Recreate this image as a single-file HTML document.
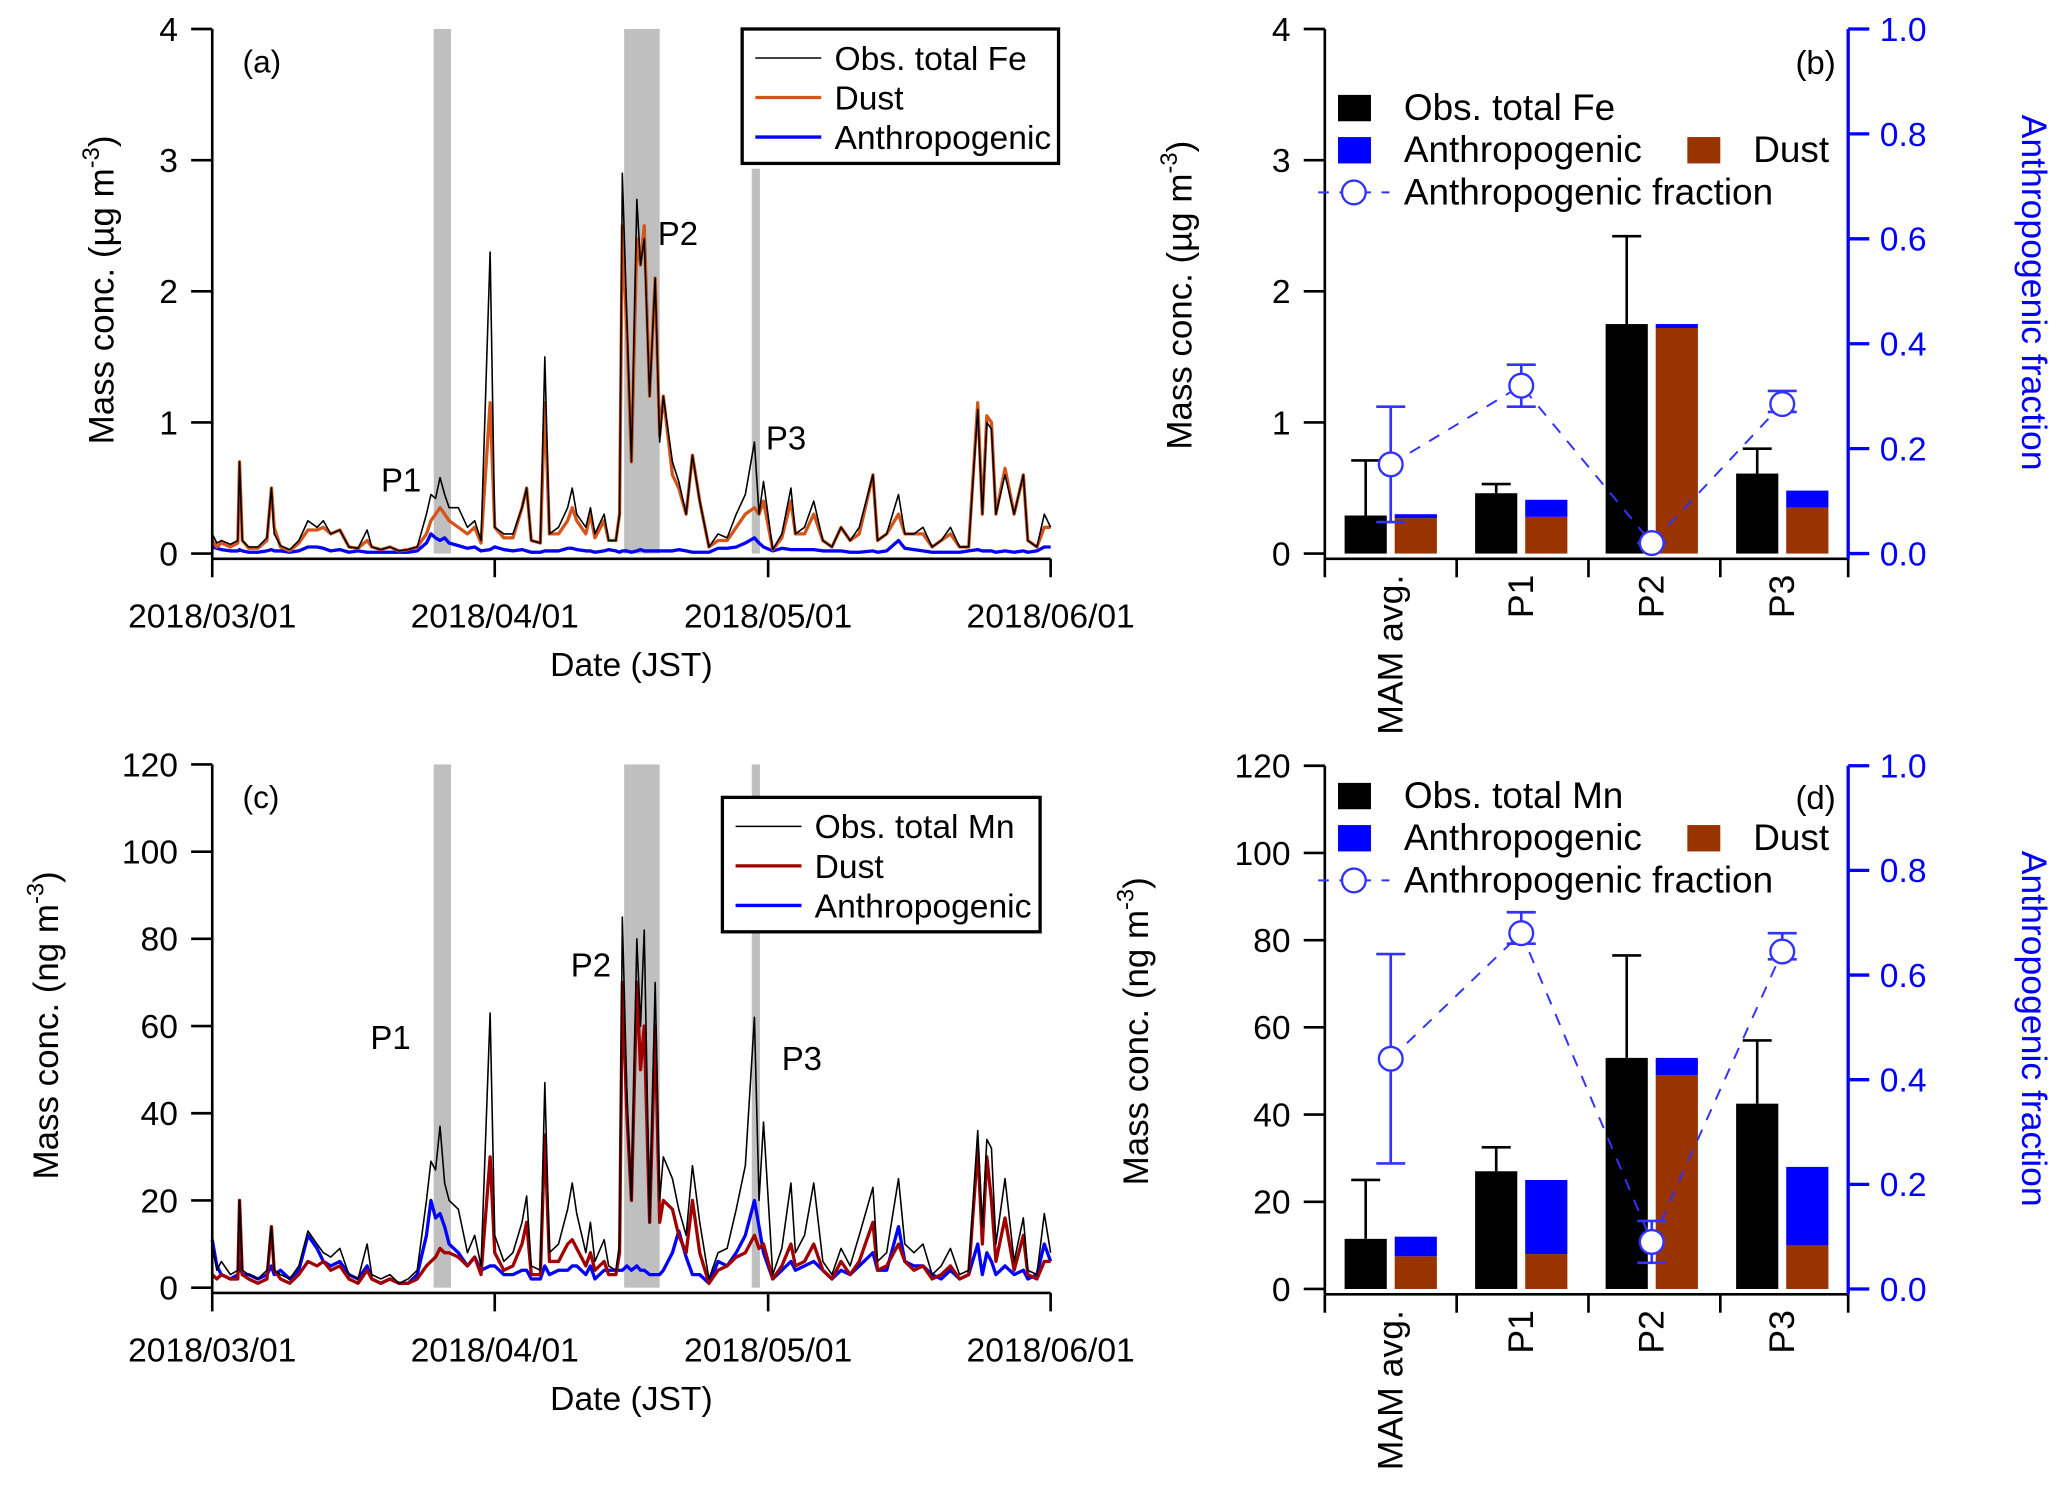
<!DOCTYPE html>
<html><head><meta charset="utf-8">
<style>
html,body{margin:0;padding:0;background:#fff;}
svg{display:block;font-family:"Liberation Sans",Arial,sans-serif;}
</style></head>
<body>
<svg id="fig" width="2067" height="1488" viewBox="0 0 1568 1129" preserveAspectRatio="none" xmlns="http://www.w3.org/2000/svg">
</svg>
<script>
// ---------- Time-series data (day index from 2018/03/01) ----------
const days = [0,0.5,1,2,2.8,3,3.3,4,5,6,6.5,6.8,7.5,8.5,9.5,10.5,11.5,12.2,13,14,15,16,17,17.5,18.5,19.5,20.5,21.5,22.5,23.5,24,24.5,25,25.5,26,27,28,28.8,29.5,30.5,31,32,33,34,34.5,35,36,36.5,37,38,39,39.5,40,41,41.5,42,43,43.5,44.3,44.7,45,45.5,46,46.6,47,47.4,48,48.6,49.1,49.5,50.5,51.2,52,52.7,53.5,54.5,55.5,56.5,57.5,58.5,59.5,60,60.5,61.5,62.5,63.5,64,65,66,67,68,69,70,71,72.5,73,74,75.3,76,77,78,79,80,81,82,83,84,84.5,85,85.5,86,87,88,89,89.5,90.5,91.3,92];
const feObs = [.15,.08,.1,.07,.1,.7,.1,.05,.05,.12,.5,.15,.06,.03,.1,.25,.2,.25,.15,.18,.05,.04,.18,.05,.03,.05,.02,.03,.05,.3,.45,.42,.58,.45,.35,.35,.2,.25,.1,2.3,.2,.15,.15,.35,.5,.1,.08,1.5,.15,.2,.35,.5,.3,.2,.35,.15,.3,.1,.1,.3,2.9,1.8,.7,2.7,2.2,2.4,1.2,2.1,.85,1.2,.7,.55,.3,.75,.4,.05,.15,.12,.3,.45,.85,.3,.55,.03,.15,.5,.15,.2,.4,.1,.05,.2,.1,.2,.6,.1,.15,.45,.15,.15,.2,.05,.1,.2,.05,.05,1.1,.3,1.0,.95,.3,.6,.3,.6,.1,.05,.3,.2];
const feDust = [.1,.05,.08,.05,.08,.7,.1,.04,.04,.1,.5,.2,.05,.02,.08,.18,.18,.2,.15,.18,.05,.04,.1,.05,.03,.05,.02,.03,.05,.15,.25,.3,.35,.3,.25,.2,.15,.2,.08,1.15,.2,.12,.12,.35,.5,.1,.08,1.15,.15,.15,.25,.35,.25,.15,.3,.12,.25,.1,.1,.3,2.5,1.7,.7,2.4,2.2,2.5,1.2,2.1,.9,1.2,.6,.5,.3,.75,.4,.05,.1,.1,.2,.3,.35,.3,.4,.03,.12,.4,.15,.15,.3,.1,.05,.2,.1,.15,.6,.1,.15,.3,.15,.15,.15,.05,.1,.15,.05,.05,1.15,.3,1.05,1.0,.3,.65,.3,.6,.1,.05,.2,.2];
const feAnth = [.05,.04,.03,.02,.02,.03,.02,.01,.01,.02,.03,.02,.02,.01,.02,.05,.05,.04,.02,.03,.01,.02,.01,.01,.01,.01,.01,.01,.02,.08,.15,.12,.1,.12,.08,.06,.04,.05,.02,.03,.05,.03,.02,.03,.02,.01,.01,.02,.02,.02,.04,.04,.03,.02,.02,.01,.02,.03,.02,.01,.02,.02,.01,.02,.03,.02,.02,.02,.02,.02,.02,.03,.02,.01,.01,.01,.04,.04,.05,.08,.12,.08,.05,.02,.04,.03,.03,.03,.03,.02,.02,.02,.01,.01,.02,.01,.02,.1,.04,.03,.02,.01,.01,.01,.01,.02,.03,.02,.02,.02,.01,.02,.01,.02,.01,.02,.05,.05];
const mnObs = [10,4,6,3,4,20,4,3,2,4,14,4,3,2,5,13,10,8,7,9,3,2,10,3,2,3,1,2,4,20,29,27,37,24,20,18,8,12,5,63,12,6,8,15,21,5,4,47,8,10,18,24,17,8,15,6,11,5,4,10,85,45,20,80,60,82,15,70,20,30,25,18,12,28,15,2,8,9,18,28,62,20,38,3,9,24,8,12,24,6,3,9,5,12,23,6,8,25,10,8,10,3,5,9,3,4,36,14,34,32,10,25,6,16,4,3,17,8];
const mnDust = [3,2,3,2,2,20,3,2,1,2,14,4,2,1,3,6,5,6,4,5,2,1,4,2,1,2,1,1,2,5,6,7,9,8,8,7,5,7,3,30,8,4,5,10,15,3,3,35,6,6,10,11,9,5,8,4,6,3,3,8,70,40,20,70,50,60,15,60,15,20,18,12,8,20,8,1,4,5,7,8,12,9,10,2,5,10,5,6,10,4,2,6,3,6,15,4,5,10,6,4,5,2,3,5,2,3,32,10,30,20,6,16,4,12,3,2,6,6];
const mnAnth = [11,5,3,2,3,6,3,3,2,3,5,3,4,2,4,12,9,6,5,6,3,2,5,2,1,2,1,1,3,12,20,16,17,14,10,8,5,7,4,5,5,3,3,4,4,2,2,5,3,4,4,5,5,3,5,2,4,4,4,4,4,5,4,5,4,4,3,3,3,4,8,13,7,3,3,1,6,5,8,12,20,14,8,2,4,6,4,5,6,4,2,4,3,5,8,4,4,14,6,5,5,3,2,4,2,3,10,3,8,6,3,5,3,4,2,3,10,6];

// ---------- Bar chart data ----------
const barCats = ["MAM avg.","P1","P2","P3"];
const feBarObs = [0.29,0.46,1.75,0.61];
const feBarObsErr = [0.71,0.53,2.42,0.80];
const feBarDust = [0.27,0.28,1.72,0.35];
const feBarAnth = [0.03,0.13,0.03,0.13];
const feFrac = [0.17,0.32,0.02,0.285];
const feFracLo = [0.06,0.28,0.02,0.27];
const feFracHi = [0.28,0.36,0.02,0.31];
const mnBarObs = [11.5,27,53,42.5];
const mnBarObsErr = [25,32.5,76.5,57];
const mnBarDust = [7.5,8,49,10];
const mnBarAnth = [4.5,17,4,18];
const mnFrac = [0.44,0.68,0.09,0.645];
const mnFracLo = [0.24,0.66,0.05,0.63];
const mnFracHi = [0.64,0.72,0.13,0.68];
const tsTicks = ["2018/03/01","2018/04/01","2018/05/01","2018/06/01"];
const tsTickDays = [0,31,61,92];

const NS="http://www.w3.org/2000/svg";
const svg=document.getElementById('fig');
function el(tag,attrs,parent,text){
  const e=document.createElementNS(NS,tag);
  for(const k in attrs) e.setAttribute(k,attrs[k]);
  if(text!==undefined) e.textContent=text;
  (parent||svg).appendChild(e); return e;
}
function grp(name){const g=el('g',{});return g;}

function tsPanel(o){
  const g=grp(o.name);
  const X=d=>161+d*(797-161)/92;
  const Y=v=>o.y0-v*(o.y0-o.yTop)/o.yMax;
  o.shades.forEach((s,i)=>{
    const r=el('rect',{x:X(s[0]),y:s[2],width:X(s[1])-X(s[0]),height:o.y0-s[2],fill:'#bfbfbf'},g);
    
  });
  const path=arr=>days.map((d,i)=>(i?'L':'M')+X(d).toFixed(1)+' '+Y(arr[i]).toFixed(1)).join(' ');
  let p=el('path',{d:path(o.anth),fill:'none',stroke:'#0000ff','stroke-width':2.5,'stroke-linejoin':'round'},g);
  
  p=el('path',{d:path(o.dust),fill:'none',stroke:o.dustColor,'stroke-width':2.5,'stroke-linejoin':'round'},g);
  
  p=el('path',{d:path(o.obs),fill:'none',stroke:'#000','stroke-width':1.2,'stroke-linejoin':'round'},g);
  
  const ax=o.y0+4;
  el('line',{x1:161,y1:o.yTop,x2:161,y2:ax,stroke:'#000','stroke-width':2},g);
  el('line',{x1:161,y1:ax,x2:797,y2:ax,stroke:'#000','stroke-width':2},g);
  o.yTicks.forEach(v=>{
    el('line',{x1:145,y1:Y(v),x2:161,y2:Y(v),stroke:'#000','stroke-width':2},g);
    const t=el('text',{x:135,y:Y(v)+9,'text-anchor':'end','font-size':25.5},g,String(v));
    
  });
  tsTickDays.forEach((d,i)=>{
    el('line',{x1:X(d),y1:ax,x2:X(d),y2:ax+14,stroke:'#000','stroke-width':2},g);
    const t=el('text',{x:X(d),y:ax+52,'text-anchor':'middle','font-size':25.5},g,tsTicks[i]);
    
  });
  let t=el('text',{x:479,y:ax+89,'text-anchor':'middle','font-size':25.5},g,'Date (JST)');
  
  t=el('text',{transform:`translate(${o.titleX},${o.titleY}) rotate(-90)`,'text-anchor':'middle','font-size':26.5},g);
  
  el('tspan',{},t,o.unit);el('tspan',{dy:-11,'font-size':18},t,'-3');el('tspan',{dy:11},t,')');
  t=el('text',{x:184,y:o.yTop+33,'font-size':24},g,o.label);
  
  o.pl.forEach((q,i)=>{const tt=el('text',{x:q[0],y:q[1],'font-size':25},g,'P'+(i+1));
    });
  const L=o.leg;
  const lg=grp('legend');g.appendChild(lg);
  el('rect',{x:L[0],y:L[1],width:L[2],height:L[3],fill:'#fff',stroke:'#000','stroke-width':2.5},lg);
  const items=[[o.obsName,'#000',1.2],['Dust',o.dustColor,2.5],['Anthropogenic','#0000ff',2.5]];
  items.forEach((it,i)=>{
    const yy=L[1]+22+i*30;
    el('line',{x1:L[0]+10,y1:yy,x2:L[0]+60,y2:yy,stroke:it[1],'stroke-width':it[2]},lg);
    const tt=el('text',{x:L[0]+70,y:yy+9,'font-size':25.5},lg,it[0]);
    
  });
}

tsPanel({name:'panel-a',y0:420,yTop:22,yMax:4,yTicks:[0,1,2,3,4],obs:feObs,dust:feDust,anth:feAnth,dustColor:'#d4541a',
  shades:[[24.3,26.2,22],[45.2,49.1,22],[59.2,60.1,128]],titleX:86,titleY:220,unit:'Mass conc. (µg m',label:'(a)',
  pl:[[289,373],[499,186],[581,341]],leg:[563,22,240,102],obsName:'Obs. total Fe'});
tsPanel({name:'panel-c',y0:977,yTop:580,yMax:120,yTicks:[0,20,40,60,80,100,120],obs:mnObs,dust:mnDust,anth:mnAnth,dustColor:'#a00000',
  shades:[[24.3,26.2,580],[45.2,49.1,580],[59.2,60.1,580]],titleX:44,titleY:778,unit:'Mass conc. (ng m',label:'(c)',
  pl:[[281,796],[433,741],[593,812]],leg:[548,605,241,102],obsName:'Obs. total Mn'});

function barPanel(o){
  const g=grp(o.name);
  const Y=v=>o.y0-v*(o.y0-o.yTop)/o.yMax;
  const F=v=>o.y0-v*(o.y0-o.yTop);
  const cx=i=>1055+i*99;
  const L=1005,R=1402,ax=o.y0+4;
  barCats.forEach((c,i)=>{
    const c0=cx(i);
    el('line',{x1:c0-19,y1:Y(o.obs[i]),x2:c0-19,y2:Y(o.err[i]),stroke:'#000','stroke-width':2},g);
    el('line',{x1:c0-30,y1:Y(o.err[i]),x2:c0-8,y2:Y(o.err[i]),stroke:'#000','stroke-width':2},g);
    let r=el('rect',{x:c0-35,y:Y(o.obs[i]),width:32,height:o.y0-Y(o.obs[i]),fill:'#000'},g);
    
    r=el('rect',{x:c0+3,y:Y(o.dust[i]),width:32,height:o.y0-Y(o.dust[i]),fill:'#993300'},g);
    
    r=el('rect',{x:c0+3,y:Y(o.dust[i]+o.anth[i]),width:32,height:Y(o.dust[i])-Y(o.dust[i]+o.anth[i]),fill:'#0000ff'},g);
    
    const t=el('text',{transform:`translate(${c0+9},${ax+12}) rotate(-90)`,'text-anchor':'end','font-size':27},g,c);
    
  });
  const pts=o.frac.map((f,i)=>cx(i)+','+F(f)).join(' ');
  const pl=el('polyline',{points:pts,fill:'none',stroke:'#3333ff','stroke-width':1.5,'stroke-dasharray':'9,8'},g);
  
  o.frac.forEach((f,i)=>{
    const c0=cx(i);
    el('line',{x1:c0,y1:F(o.lo[i]),x2:c0,y2:F(o.hi[i]),stroke:'#3333ff','stroke-width':2},g);
    el('line',{x1:c0-11,y1:F(o.lo[i]),x2:c0+11,y2:F(o.lo[i]),stroke:'#3333ff','stroke-width':2},g);
    el('line',{x1:c0-11,y1:F(o.hi[i]),x2:c0+11,y2:F(o.hi[i]),stroke:'#3333ff','stroke-width':2},g);
    const ci=el('circle',{cx:c0,cy:F(f),r:9,fill:'#fff',stroke:'#3333ff','stroke-width':1.8},g);
    
  });
  el('line',{x1:L,y1:o.yTop,x2:L,y2:ax,stroke:'#000','stroke-width':2},g);
  el('line',{x1:L,y1:ax,x2:R,y2:ax,stroke:'#000','stroke-width':2},g);
  [L,1105,1205,1305,R].forEach(x=>el('line',{x1:x,y1:ax,x2:x,y2:ax+14,stroke:'#000','stroke-width':2},g));
  el('line',{x1:R,y1:o.yTop,x2:R,y2:ax,stroke:'#0000ff','stroke-width':2.5},g);
  o.yTicks.forEach(v=>{
    el('line',{x1:L-16,y1:Y(v),x2:L,y2:Y(v),stroke:'#000','stroke-width':2},g);
    const t=el('text',{x:L-26,y:Y(v)+9,'text-anchor':'end','font-size':25.5},g,String(v));
    
  });
  [0,0.2,0.4,0.6,0.8,1.0].forEach(v=>{
    el('line',{x1:R,y1:F(v),x2:R+16,y2:F(v),stroke:'#0000ff','stroke-width':2.5},g);
    const t=el('text',{x:R+24,y:F(v)+9,'font-size':25.5,fill:'#0000ff'},g,v.toFixed(1));
    
  });
  let t=el('text',{transform:`translate(${o.titleX},${(o.yTop+o.y0)/2+3}) rotate(-90)`,'text-anchor':'middle','font-size':26.5},g);
  
  el('tspan',{},t,o.unit);el('tspan',{dy:-11,'font-size':18},t,'-3');el('tspan',{dy:11},t,')');
  t=el('text',{transform:`translate(1534,${(o.yTop+o.y0)/2+1}) rotate(90)`,'text-anchor':'middle','font-size':27,fill:'#0000ff'},g,'Anthropogenic fraction');
  
  t=el('text',{x:1362,y:o.labelY,'font-size':25},g,o.label);
  
  const lg=grp('legend');g.appendChild(lg);
  const ly=o.legY;
  el('rect',{x:1015,y:ly-9,width:25,height:20,fill:'#000'},lg);
  let tt=el('text',{x:1065,y:ly+10,'font-size':28},lg,o.obsName);
  el('rect',{x:1015,y:ly+23,width:25,height:20,fill:'#0000ff'},lg);
  tt=el('text',{x:1065,y:ly+42,'font-size':28},lg,'Anthropogenic');
  el('rect',{x:1280,y:ly+23,width:25,height:20,fill:'#993300'},lg);
  tt=el('text',{x:1330,y:ly+42,'font-size':28},lg,'Dust');
  el('line',{x1:1000,y1:ly+65,x2:1054,y2:ly+65,stroke:'#3333ff','stroke-width':1.5,'stroke-dasharray':'8,8'},lg);
  el('circle',{cx:1027,cy:ly+65,r:9,fill:'#fff',stroke:'#3333ff','stroke-width':1.8},lg);
  tt=el('text',{x:1065,y:ly+74,'font-size':28},lg,'Anthropogenic fraction');
}
barPanel({name:'panel-b',y0:420,yTop:22,yMax:4,yTicks:[0,1,2,3,4],obs:feBarObs,err:feBarObsErr,dust:feBarDust,anth:feBarAnth,
  frac:feFrac,lo:feFracLo,hi:feFracHi,titleX:904,unit:'Mass conc. (µg m',label:'(b)',labelY:56,legY:81,obsName:'Obs. total Fe'});
barPanel({name:'panel-d',y0:978,yTop:581,yMax:120,yTicks:[0,20,40,60,80,100,120],obs:mnBarObs,err:mnBarObsErr,dust:mnBarDust,anth:mnBarAnth,
  frac:mnFrac,lo:mnFracLo,hi:mnFracHi,titleX:871,unit:'Mass conc. (ng m',label:'(d)',labelY:614,legY:603,obsName:'Obs. total Mn'});
</script>
</body></html>
